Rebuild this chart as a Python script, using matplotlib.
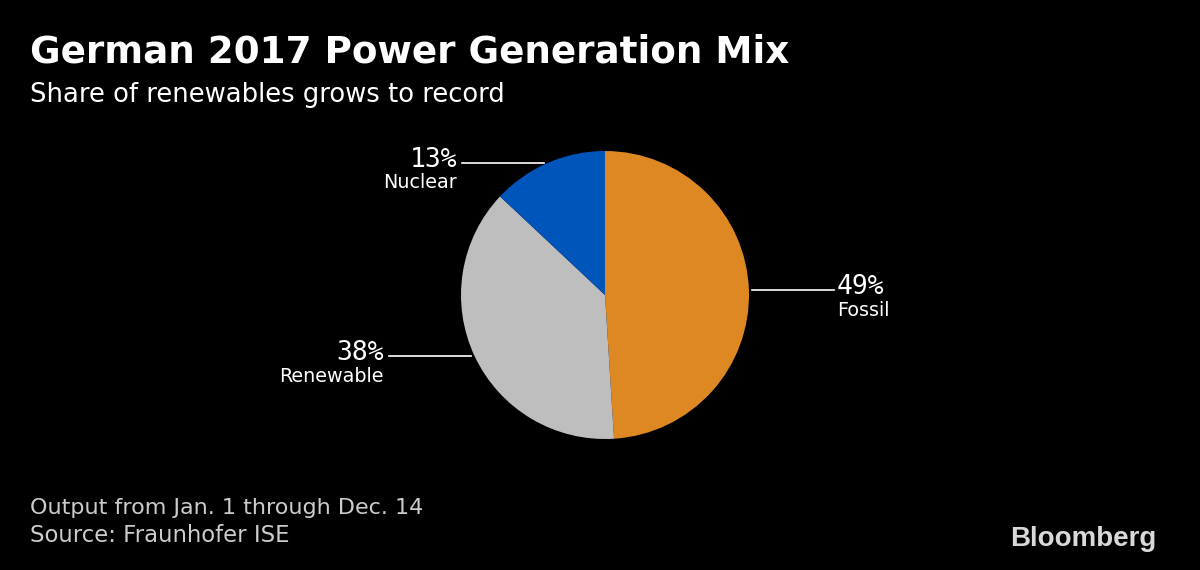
import matplotlib
matplotlib.use('Agg')
import matplotlib.pyplot as plt

sources = ['Fossil', 'Renewable', 'Nuclear']
shares = [49, 38, 13]
colors = ['#dd8822', '#bebebe', '#0055bb']
# label anchors in figure pixels: text x, pct y, name y, line y, line start, line end
label_pos = [(837, 287, 310, 290, 752, 834), (384, 353, 376, 356, 389, 471), (457, 160, 183, 163, 462, 544)]

W, H = 1200, 570
plt.rcParams['font.family'] = ['DejaVu Sans']
fig = plt.figure(figsize=(W/100, H/100), dpi=100, facecolor='black')

def fx(x):
    return x/W

def fy(y):
    return 1 - y/H

# pie centred at (605, 295), radius 144
ax = fig.add_axes([fx(461), fy(439), 288/W, 288/H])
ax.pie(shares, colors=colors, startangle=90, counterclock=False, radius=1,
       wedgeprops={'linewidth': 0})
ax.set_xlim(-1, 1)
ax.set_ylim(-1, 1)
ax.set_aspect('equal')

for name, share, (tx, py, ny, ly, x0, x1) in zip(sources, shares, label_pos):
    ha = 'left' if name == 'Fossil' else 'right'
    # percent labels are narrow and tall, the mono face fits them best
    fig.text(fx(tx), fy(py), f'{share}%', color='white', fontsize=19, family='DejaVu Sans Mono',
             ha=ha, va='center')
    fig.text(fx(tx), fy(ny), name, color='white', fontsize=13.8, ha=ha, va='center')
    fig.add_artist(plt.Line2D([fx(x0), fx(x1)], [fy(ly), fy(ly)], color='white', lw=1.2))

fig.text(fx(30), fy(52), 'German 2017 Power Generation Mix', color='white', fontsize=26.8,
         fontweight='bold', va='center')
fig.text(fx(30), fy(95), 'Share of renewables grows to record', color='white', fontsize=18.6,
         va='center')
fig.text(fx(30), fy(508), 'Output from Jan. 1 through Dec. 14', color='#cccccc', fontsize=16,
         va='center')
fig.text(fx(30), fy(536), 'Source: Fraunhofer ISE', color='#cccccc', fontsize=16.4, va='center')
fig.text(fx(1156), fy(539), 'Bloomberg', color='#d9d9d9', fontsize=20, fontweight='bold',
         family='Liberation Sans', ha='right', va='center')

fig.savefig('out.png', dpi=100, facecolor='black')
